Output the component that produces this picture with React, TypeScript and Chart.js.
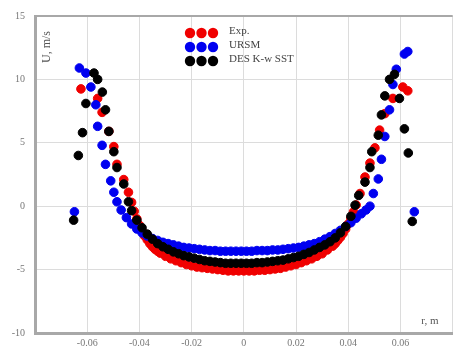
import React, { useEffect, useRef } from 'react';
import { Chart, registerables } from 'chart.js';

Chart.register(...registerables);

// r [m], U [m/s]
const expData: [number, number][] = [
  [-0.0624, 9.25], [-0.056, 8.5], [-0.0543, 7.4], [-0.0517, 5.9], [-0.0498, 4.7], [-0.0486, 3.3],
  [-0.046, 2.1], [-0.0442, 1.1], [-0.043, 0.3], [-0.042, -0.4], [-0.041, -1.0], [-0.04, -1.5],
  [-0.039, -1.95], [-0.038, -2.35], [-0.037, -2.65], [-0.036, -2.95], [-0.035, -3.2], [-0.034, -3.4],
  [-0.033, -3.55], [-0.032, -3.7], [-0.03, -3.95], [-0.028, -4.15], [-0.026, -4.3], [-0.024, -4.45],
  [-0.022, -4.6], [-0.02, -4.7], [-0.018, -4.8], [-0.016, -4.85], [-0.014, -4.9], [-0.012, -4.95],
  [-0.01, -5.0], [-0.008, -5.05], [-0.006, -5.1], [-0.004, -5.1], [-0.002, -5.1], [0, -5.1],
  [0.002, -5.1], [0.004, -5.1], [0.006, -5.05], [0.008, -5.05], [0.01, -5.0], [0.012, -4.95],
  [0.014, -4.9], [0.016, -4.8], [0.018, -4.7], [0.02, -4.6], [0.022, -4.45], [0.024, -4.3],
  [0.026, -4.15], [0.028, -3.95], [0.03, -3.75], [0.032, -3.45], [0.034, -3.15], [0.035, -2.95],
  [0.036, -2.7], [0.037, -2.45], [0.038, -2.15], [0.039, -1.8], [0.04, -1.4], [0.041, -0.95],
  [0.042, -0.45], [0.043, 0.1], [0.0445, 1.0], [0.0464, 2.3], [0.0483, 3.4], [0.0502, 4.6],
  [0.052, 6.0], [0.054, 7.3], [0.0571, 8.5], [0.0609, 9.4], [0.0628, 9.1],
];

const ursmData: [number, number][] = [
  [-0.0649, -0.44], [-0.063, 10.9], [-0.0605, 10.5], [-0.0586, 9.4], [-0.0567, 8.0], [-0.056, 6.3],
  [-0.0543, 4.8], [-0.053, 3.3], [-0.051, 2.0], [-0.0498, 1.1], [-0.0486, 0.35], [-0.047, -0.3],
  [-0.045, -0.9], [-0.043, -1.4], [-0.041, -1.8], [-0.039, -2.1], [-0.037, -2.35], [-0.035, -2.55],
  [-0.033, -2.7], [-0.031, -2.85], [-0.029, -2.95], [-0.027, -3.05], [-0.025, -3.15], [-0.023, -3.25],
  [-0.021, -3.3], [-0.019, -3.35], [-0.017, -3.4], [-0.015, -3.45], [-0.013, -3.5], [-0.011, -3.5],
  [-0.009, -3.55], [-0.007, -3.55], [-0.005, -3.55], [-0.003, -3.55], [-0.001, -3.55], [0.001, -3.55],
  [0.003, -3.55], [0.005, -3.5], [0.007, -3.5], [0.009, -3.5], [0.011, -3.45], [0.013, -3.45],
  [0.015, -3.4], [0.017, -3.35], [0.019, -3.3], [0.021, -3.25], [0.023, -3.15], [0.025, -3.05],
  [0.027, -2.95], [0.029, -2.8], [0.031, -2.6], [0.033, -2.4], [0.035, -2.15], [0.037, -1.9],
  [0.039, -1.6], [0.041, -1.3], [0.043, -0.95], [0.045, -0.6], [0.0468, -0.3], [0.0483, 0.0],
  [0.0496, 1.0], [0.0515, 2.15], [0.0527, 3.7], [0.054, 5.5], [0.0558, 7.6], [0.0571, 9.6],
  [0.0584, 10.8], [0.0615, 12.0], [0.0628, 12.2], [0.0653, -0.44],
];

const desData: [number, number][] = [
  [-0.0652, -1.1], [-0.0634, 4.0], [-0.0618, 5.8], [-0.0605, 8.1], [-0.0574, 10.5], [-0.056, 10.0],
  [-0.0542, 9.0], [-0.053, 7.6], [-0.0517, 5.9], [-0.0498, 4.3], [-0.0486, 3.05], [-0.046, 1.75],
  [-0.0442, 0.35], [-0.043, -0.35], [-0.041, -1.1], [-0.039, -1.7], [-0.037, -2.2], [-0.035, -2.6],
  [-0.033, -2.95], [-0.031, -3.2], [-0.029, -3.4], [-0.027, -3.6], [-0.025, -3.75], [-0.023, -3.9],
  [-0.021, -4.0], [-0.019, -4.1], [-0.017, -4.2], [-0.015, -4.3], [-0.013, -4.35], [-0.011, -4.4],
  [-0.009, -4.45], [-0.007, -4.5], [-0.005, -4.5], [-0.003, -4.5], [-0.001, -4.5], [0.001, -4.5],
  [0.003, -4.5], [0.005, -4.45], [0.007, -4.45], [0.009, -4.4], [0.011, -4.35], [0.013, -4.3],
  [0.015, -4.25], [0.017, -4.15], [0.019, -4.05], [0.021, -3.95], [0.023, -3.8], [0.025, -3.65],
  [0.027, -3.45], [0.029, -3.25], [0.031, -3.05], [0.033, -2.8], [0.035, -2.5], [0.037, -2.1],
  [0.039, -1.6], [0.041, -0.8], [0.0426, 0.08], [0.044, 0.85], [0.0464, 1.9], [0.0483, 3.05],
  [0.049, 4.3], [0.0515, 5.6], [0.0527, 7.2], [0.054, 8.7], [0.0558, 10.0], [0.0577, 10.4],
  [0.0596, 8.5], [0.0615, 6.1], [0.063, 4.2], [0.0645, -1.2],
];

const seriesNames = ['Exp.', 'URSM', 'DES K-w SST'];
const seriesColors = ['#f00000', '#0000f0', '#000000'];
const xTickValues = [-0.08, -0.06, -0.04, -0.02, 0, 0.02, 0.04, 0.06, 0.08];
const yTickValues = [-10, -5, 0, 5, 10, 15];
const yTitle = 'U, m/s';
const xTitle = 'r, m';

const toPoints = (arr: [number, number][]) => arr.map(([x, y]) => ({ x, y }));

export default function App() {
  const ref = useRef<HTMLCanvasElement | null>(null);

  useEffect(() => {
    if (!ref.current) return;
    const overlay = {
      id: 'overlay',
      afterDraw(chart: any) {
        const { ctx, chartArea } = chart;
        ctx.save();
        // top border
        ctx.strokeStyle = '#a8a8a8';
        ctx.lineWidth = 2;
        ctx.beginPath();
        ctx.moveTo(chartArea.left, chartArea.top);
        ctx.lineTo(chartArea.right, chartArea.top);
        ctx.stroke();
        // y title
        ctx.fillStyle = '#555';
        ctx.font = '12px "Liberation Serif", serif';
        ctx.save();
        ctx.translate(chartArea.left + 12, chartArea.top + 31);
        ctx.rotate(-Math.PI / 2);
        ctx.textAlign = 'center';
        ctx.textBaseline = 'middle';
        ctx.fillText(yTitle, 0, 0);
        ctx.restore();
        // x title
        ctx.font = '11px "Liberation Serif", serif';
        ctx.textAlign = 'center';
        ctx.textBaseline = 'middle';
        ctx.fillText(xTitle, chartArea.left + 395, chartArea.bottom - 12);
        // legend
        const lx = 190;
        const ly = [33, 47, 61];
        seriesNames.forEach((name, i) => {
          ctx.fillStyle = seriesColors[i];
          for (let k = 0; k < 3; k++) {
            ctx.beginPath();
            ctx.arc(lx + k * 11.5, ly[i], 5.2, 0, Math.PI * 2);
            ctx.fill();
          }
          ctx.fillStyle = '#444';
          ctx.textAlign = 'left';
          ctx.textBaseline = 'middle';
          ctx.font = '11px "Liberation Serif", serif';
          ctx.fillText(name, 229, ly[i] - 2);
        });
        ctx.restore();
      },
    };

    const datasets = [expData, ursmData, desData].map((d, i) => ({
      label: seriesNames[i],
      data: toPoints(d),
      backgroundColor: seriesColors[i],
      borderColor: seriesColors[i],
      pointRadius: 4.3,
      pointBorderWidth: 1,
      order: 3 - i,
    }));

    const chart = new Chart(ref.current, {
      type: 'scatter',
      data: { datasets },
      options: {
        animation: false,
        responsive: false,
        maintainAspectRatio: false,
        layout: { padding: { left: 0, right: 0, top: 13, bottom: 0 } },
        plugins: { legend: { display: false }, tooltip: { enabled: false } },
        scales: {
          x: {
            type: 'linear',
            min: -0.08,
            max: 0.08,
            afterBuildTicks: (scale: any) => {
              scale.ticks = xTickValues.map((v) => ({ value: v }));
            },
            afterFit: (scale: any) => {
              scale.height = 14;
            },
            grid: { color: '#dcdcdc', lineWidth: 1, drawTicks: false },
            border: { display: true, color: '#a8a8a8', width: 3 },
            ticks: {
              padding: 4,
              color: '#777',
              font: { family: '"Liberation Serif", serif', size: 10 },
              maxRotation: 0,
              autoSkip: false,
              callback: (v: any) => {
                const n = Number(v);
                if (Math.abs(n) > 0.07) return '';
                if (Math.abs(n) < 1e-9) return '0';
                return n.toFixed(2);
              },
            },
          },
          y: {
            type: 'linear',
            min: -10,
            max: 15,
            afterBuildTicks: (scale: any) => {
              scale.ticks = yTickValues.map((v) => ({ value: v }));
            },
            afterFit: (scale: any) => {
              scale.width = 35;
            },
            grid: { color: '#dcdcdc', lineWidth: 1, drawTicks: false },
            border: { display: true, color: '#a8a8a8', width: 3 },
            ticks: {
              padding: 10,
              color: '#777',
              font: { family: '"Liberation Serif", serif', size: 10 },
              callback: (v: any) => String(v),
            },
          },
        },
      },
      plugins: [overlay],
    } as any);

    return () => chart.destroy();
  }, []);

  return (
    <div style={{ position: 'fixed', left: 0, top: 0, width: 458, height: 349, background: '#fff', overflow: 'hidden' }}>
      <canvas ref={ref} width={458} height={349} style={{ width: 458, height: 349, display: 'block' }} />
    </div>
  );
}
